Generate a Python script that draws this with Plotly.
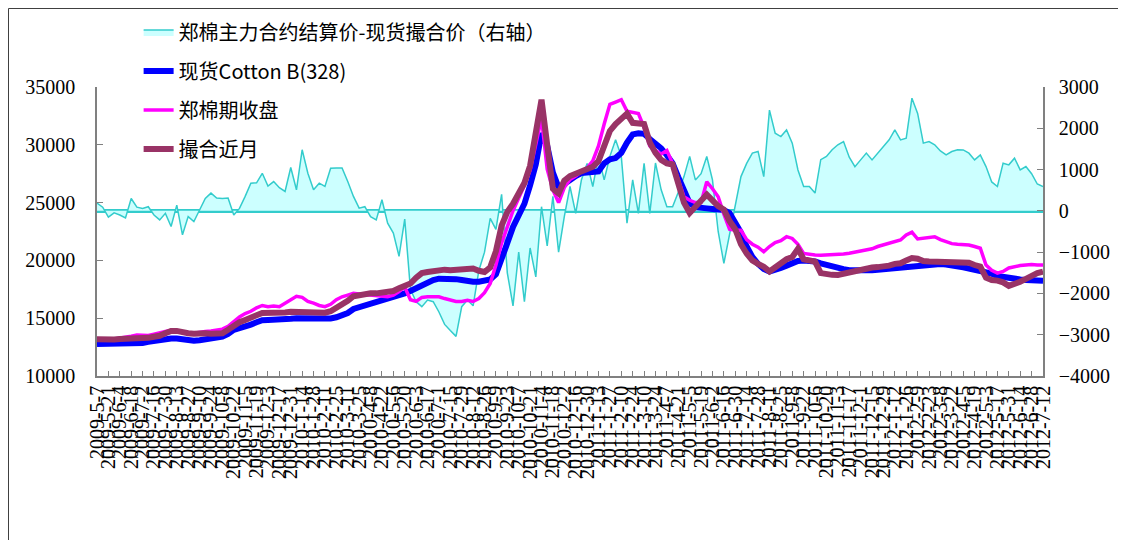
import pandas as pd
import plotly.graph_objects as go

##########################
# data (weekly)
##########################

dates = pd.date_range("2009-05-07", periods=167, freq="7D")

# 郑棉主力合约结算价-现货撮合价 (right axis)
basis = [190, 90, -150, -50, -100, -170, 300, 90, 60, 100,
         -100, -220, -60, -380, 140, -580, -140, -260, 20, 300,
         430, 310, 300, 310, -100, 60, 350, 670, 680, 910,
         600, 710, 560, 470, 1050, 510, 1480, 910, 510, 670,
         590, 1030, 1040, 1040, 710, 350, 65, 100, -140, -220,
         270, -300, -540, -1100, -200, -1900, -2200, -2320, -2160, -2200,
         -2450, -2750, -2900, -3040, -2320, -2160, -2300, -1450, -1000, -180,
         -450, 400, -1500, -2300, -1000, -2200, -900, -1600, 100, -850,
         350, -1000, -140, 590, -60, 750, 1150, 590, 1320, 750,
         1320, 1720, 1320, -300, 750, -60, 1150, -60, 1160, 510,
         100, 100, 450, 830, 1320, 750, 900, 1316, 750, -500,
         -1270, -540, 100, 830, 1150, 1400, 1440, 830, 2440, 1880,
         1800, 1960, 1640, 990, 590, 590, 430, 1240, 1316, 1480,
         1600, 1680, 1300, 1070, 1235, 1400, 1235, 1400, 1560, 1720,
         1960, 1720, 1760, 2730, 2360, 1640, 1680, 1600, 1450, 1356,
         1437, 1480, 1477, 1397, 1235, 1356, 1073, 700, 590, 1155,
         1114, 1276, 993, 1073, 900, 650, 590]

# 现货Cotton B(328)
spot = [12770, 12770, 12750, 12750, 12760, 12770, 12800, 12830, 12860, 12950,
        13050, 13120, 13180, 13250, 13250, 13150, 13060, 13050, 13100, 13160,
        13200, 13300, 13400, 13650, 14000, 14150, 14270, 14450, 14650, 14830,
        14850, 14850, 14860, 14950, 14950, 15000, 14980, 14950, 14920, 14900,
        14920, 14980, 15080, 15200, 15450, 15800, 15950, 16080, 16200, 16310,
        16450, 16650, 16800, 16950, 17150, 17350, 17600, 17900, 18100, 18300,
        18420, 18450, 18420, 18380, 18300, 18200, 18150, 18150, 18200, 18350,
        18800, 20000, 21500, 22900, 23900, 24900, 26500, 28300, 31000, 29900,
        27600, 26300, 26600, 27000, 27300, 27550, 27600, 27700, 27700, 28400,
        28750, 28850, 29300, 30200, 30900, 31000, 30950, 30500, 30150, 29700,
        29100, 28400, 27200, 25900, 24950, 24600, 24600, 24500, 24450, 24400,
        24350, 24100, 23300, 22400, 21200, 20300, 19700, 19250, 19030, 19150,
        19350, 19550, 19750, 19950, 20000, 19980, 19900, 19750, 19600, 19480,
        19350, 19250, 19150, 19120, 19120, 19120, 19150, 19200, 19250, 19300,
        19350, 19400, 19450, 19500, 19560, 19620, 19660, 19690, 19680, 19650,
        19600, 19500, 19400, 19300, 19200, 19100, 19000, 18850, 18650, 18550,
        18450, 18400, 18350, 18300, 18280, 18250, 18250]

# 郑棉期收盘
futures = [13250, 13150, 13100, 13200, 13280, 13300, 13450, 13550, 13550, 13500,
           13620, 13700, 13850, 13950, 13850, 13750, 13650, 13700, 13800, 13850,
           13900, 13950, 14050, 14300, 14700, 15100, 15400, 15600, 15900, 16100,
           16000, 16050, 16000, 16300, 16600, 16900, 16800, 16450, 16300, 16100,
           16000, 16200, 16600, 16850, 17000, 17150, 17100, 17050, 17000, 16950,
           16900, 16850, 17000, 17300, 17700, 16600, 16450, 16800, 16850, 16850,
           16850, 16700, 16550, 16450, 16450, 16550, 16450, 16700, 17200, 18000,
           19600, 21500, 22900, 24300, 25400, 26500, 27800, 30000, 32300, 27900,
           26100, 25000, 26300, 27000, 27300, 27700, 28000, 28600, 29900, 31800,
           33500, 33700, 33900, 32900, 32800, 32700, 31500, 29900, 29500, 29200,
           29500, 28400, 27000, 25500, 25200, 25000, 25000, 26800, 26200, 25500,
           24000, 22700, 22600, 22600, 21800, 21400, 21150, 20750, 21200, 21550,
           21700, 22050, 21900, 21400, 20600, 20500, 20470, 20450, 20470, 20470,
           20500, 20550, 20620, 20700, 20800, 20900, 21000, 21200, 21330, 21450,
           21600, 21760, 22200, 22450, 21850, 21900, 22000, 22050, 21800, 21600,
           21450, 21400, 21350, 21330, 21200, 21050, 19600, 19150, 18900, 19050,
           19350, 19480, 19550, 19600, 19650, 19600, 19600]

# 撮合近月
near_month = [13170, 13150, 13100, 13150, 13200, 13200, 13300, 13300, 13280, 13300,
              13400, 13480, 13700, 13900, 13900, 13750, 13700, 13650, 13700, 13700,
              13650, 13680, 13700, 14000, 14400, 14650, 14850, 15000, 15250, 15450,
              15450, 15400, 15420, 15500, 15560, 15560, 15550, 15500, 15480, 15450,
              15480, 15600, 15900, 16100, 16500, 16900, 17000, 17050, 17150, 17150,
              17250, 17300, 17350, 17600, 17800, 18000, 18500, 18900, 19000, 19100,
              19170, 19200, 19150, 19170, 19250, 19310, 19300, 19100, 19000, 19400,
              20800, 23000, 24200, 24900, 25800, 26700, 28200, 30800, 33900, 30000,
              26200, 25800, 26900, 27300, 27500, 27650, 27900, 28100, 28600, 29800,
              31200, 31800, 32300, 32700, 31900, 31800, 31800, 30200, 29300, 28700,
              28400, 28300, 26500, 25000, 24100, 24700, 25100, 25700, 25200, 24700,
              24400, 23400, 22700, 21400, 20600, 20000, 19700, 19450, 19050, 19400,
              19800, 20100, 20300, 21000, 20100, 19950, 19890, 18900, 18800, 18750,
              18740, 18850, 19000, 19100, 19200, 19310, 19380, 19420, 19460, 19550,
              19700, 19750, 20000, 20200, 20150, 19950, 19900, 19890, 19890, 19880,
              19870, 19880, 19890, 19800, 19600, 19460, 18500, 18300, 18250, 18100,
              17800, 17950, 18150, 18400, 18700, 18900, 19030]

# x tick labels every other week
tick_dates = dates[::2]
tick_labels = [f"{d.year}-{d.month}-{d.day}" for d in tick_dates]

##########################
# figure
##########################

fig = go.Figure()

fig.add_trace(
    go.Scatter(
        x=dates, y=basis, yaxis='y',
        name='郑棉主力合约结算价-现货撮合价（右轴）',
        mode='lines', fill='tozeroy', fillcolor='#CCFFFF',
        line=dict(color='#33CCCC', width=1.5),
        legendgroup='a'
    )
)

fig.add_trace(
    go.Scatter(
        x=dates, y=spot, yaxis='y2', name='现货Cotton B(328)',
        mode='lines', line=dict(color='#0000FF', width=6),
        legendgroup='b'
    )
)

fig.add_trace(
    go.Scatter(
        x=dates, y=futures, yaxis='y2', name='郑棉期收盘',
        mode='lines', line=dict(color='#FF00FF', width=3.5),
        legendgroup='c'
    )
)

fig.add_trace(
    go.Scatter(
        x=dates, y=near_month, yaxis='y2', name='撮合近月',
        mode='lines', line=dict(color='#993366', width=6),
        legendgroup='d'
    )
)

tick_font = dict(family='Liberation Serif', size=20, color='black')

# plot area: 946 x 289 px
fig.update_layout(
    width=1126, height=540,
    paper_bgcolor='white', plot_bgcolor='white',
    margin=dict(l=89, r=91, t=79, b=172, autoexpand=False),
    font=dict(family='Noto Sans CJK SC', color='black'),
    showlegend=True,
    legend=dict(
        x=0.044, y=1.258, xanchor='left', yanchor='top',
        font=dict(family='Noto Sans CJK SC', size=20, color='black'),
        bgcolor='rgba(0,0,0,0)', tracegroupgap=10
    ),
    xaxis=dict(
        type='date', range=[dates[0], dates[-1]],
        tickmode='array', tickvals=tick_dates, ticktext=tick_labels,
        tickangle=-90, tickfont=dict(family='Liberation Serif', size=20, color='black'),
        ticks='inside', ticklen=5, tickcolor='#808080',
        showline=True, linecolor='#808080', linewidth=1.5,
        showgrid=False, zeroline=False
    ),
    yaxis=dict(
        side='right', range=[-4000, 3000], dtick=1000, tickformat='d',
        ticks='inside', ticklen=6, tickcolor='#808080',
        showline=True, linecolor='#808080', linewidth=1.5,
        showgrid=False, zeroline=True, zerolinecolor='#33CCCC', zerolinewidth=4,
        tickfont=tick_font, ticklabelstandoff=10
    ),
    yaxis2=dict(
        overlaying='y', side='left', range=[10000, 35000], dtick=5000, tickformat='d',
        ticks='inside', ticklen=6, tickcolor='#808080',
        showline=True, linecolor='#808080', linewidth=1.5,
        showgrid=False, zeroline=False,
        tickfont=tick_font, ticklabelstandoff=16
    ),
)

# outer frame of the picture (figure edge)
fig.add_shape(type='rect', xref='paper', yref='paper',
              x0=-88.5 / 946, x1=1.2, y0=-0.8, y1=1 + 78.5 / 289,
              line=dict(color='#404040', width=1))

fig.write_html("out.html")
